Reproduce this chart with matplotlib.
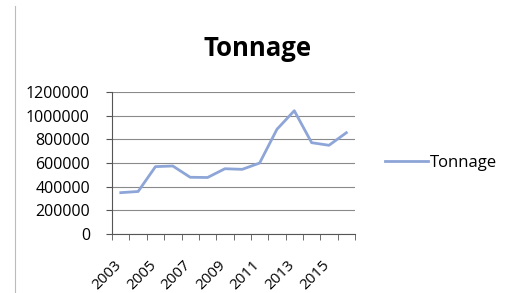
import matplotlib.pyplot as plt
import matplotlib.transforms as mtransforms
import numpy as np

years = list(range(2003, 2017))
tonnage = [350000, 360000, 570000, 575000, 480000, 478000, 552000,
           547000, 600000, 885000, 1042000, 772000, 750000, 856000]
yticks = [0, 200000, 400000, 600000, 800000, 1000000, 1200000]

plt.rcParams['font.family'] = ['Open Sans', 'DejaVu Sans']

fig = plt.figure(figsize=(5.05, 2.93), dpi=100)
ax = fig.add_axes([0.222, 0.201, 0.481, 0.485])

x = np.arange(len(years))
ax.plot(x, tonnage, color='#8ea5d8', lw=2, label='Tonnage')

ax.set_xlim(-0.5, len(years) - 0.5)
ax.set_ylim(0, 1200000)
ax.set_yticks(yticks)
ax.set_yticklabels([str(v) for v in yticks], fontsize=11.5)
ax.yaxis.grid(True, color='#8a8a8a', lw=0.8)
ax.set_axisbelow(True)

ax.set_xticks(x[::2])
ax.set_xticklabels([str(y) for y in years[::2]], rotation=45, fontsize=11,
                   ha='right', va='top', rotation_mode='anchor')
ax.tick_params(axis='x', length=0, pad=17)
shift = mtransforms.ScaledTranslation(-0.07, 0, fig.dpi_scale_trans)
for lab in ax.get_xticklabels():
    lab.set_transform(lab.get_transform() + shift)
ax.set_xticks(np.arange(-0.5, len(years)), minor=True)
ax.tick_params(axis='x', which='minor', length=4, color='#555555')
ax.tick_params(axis='y', length=4, color='#555555', pad=12)

for s in ['top', 'right']:
    ax.spines[s].set_visible(False)
ax.spines['left'].set_color('#555555')
ax.spines['bottom'].set_color('#555555')
ax.spines['left'].set_linewidth(0.8)
ax.spines['bottom'].set_linewidth(0.8)

fig.text(0.51, 0.835, 'Tonnage', fontsize=18.5, fontweight='bold', ha='center', va='center')

ax.legend(loc='center left', bbox_to_anchor=(1.06, 0.5), frameon=False,
          fontsize=12, handlelength=2.6, handletextpad=0.1)

fig.add_artist(plt.Line2D([0.03, 0.03], [0.0, 0.98], color='#bbbbbb', lw=0.8))

fig.savefig('out.png', dpi=100)
